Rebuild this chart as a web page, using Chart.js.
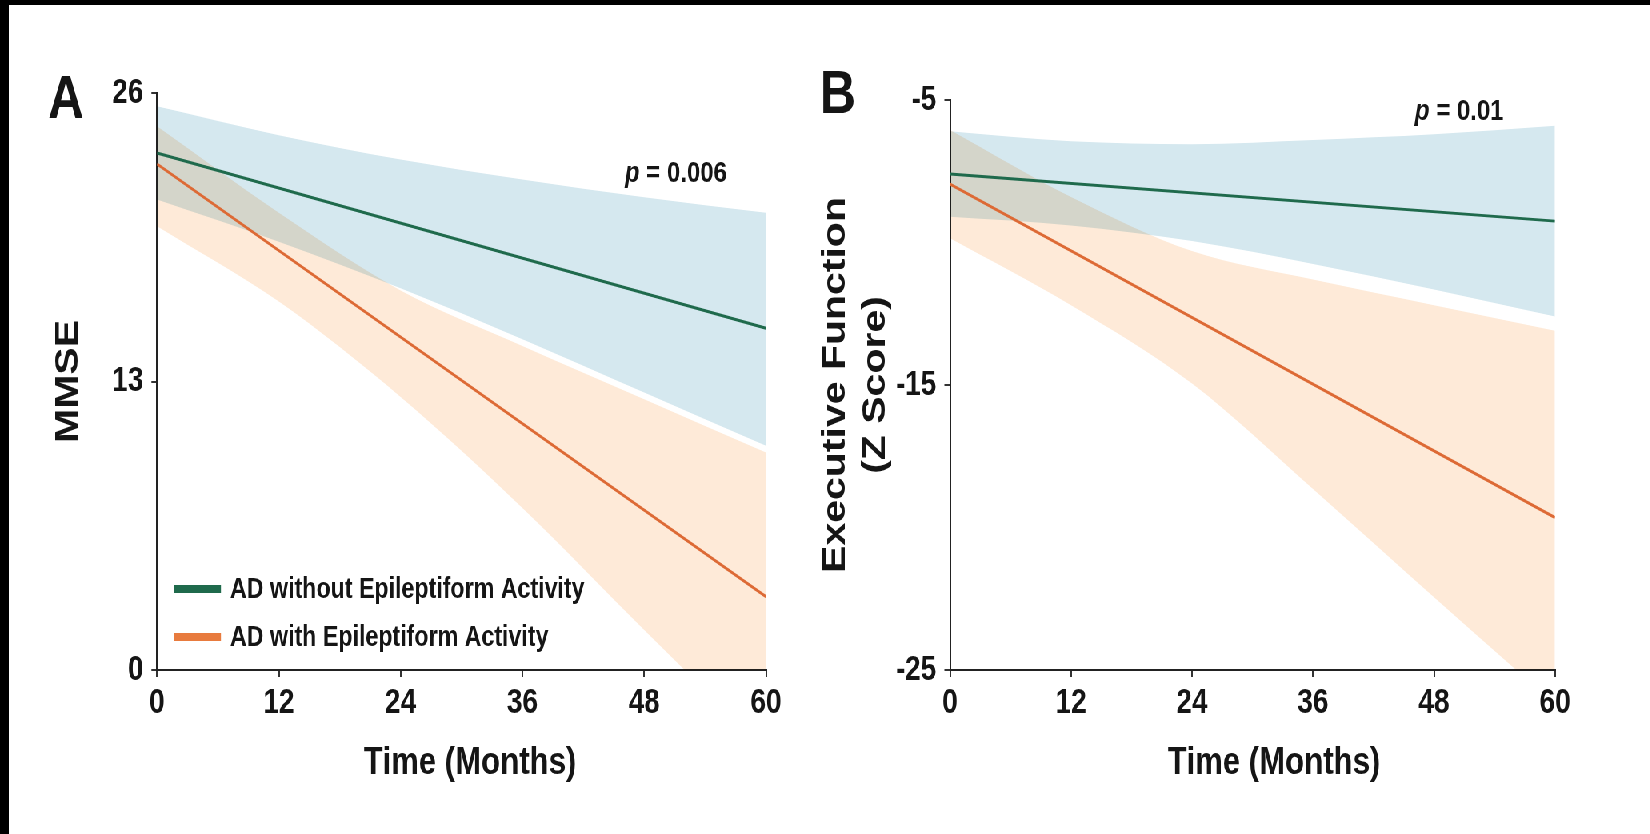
<!DOCTYPE html>
<html lang="en">
<head>
<meta charset="UTF-8">
<title>MMSE and Executive Function over time</title>
<script src="https://cdn.jsdelivr.net/npm/chart.js"></script>
<style>
    body, html {
        margin: 0;
        padding: 0;
        background: #fff;
        width: 1650px;
        height: 834px;
        overflow: hidden;
    }
    #frameTop { position: absolute; left: 0; top: 0; width: 1650px; height: 5px; background: #000; }
    #frameLeft { position: absolute; left: 0; top: 0; width: 9px; height: 834px; background: #000; }
    /* the original figure is squeezed horizontally, so draw wide and squeeze */
    #stage {
        position: absolute; left: 0; top: 0;
        width: 2063px; height: 834px;
        transform: scaleX(0.8);
        transform-origin: 0 0;
    }
    #stage canvas { position: absolute; top: 0; }
</style>
</head>
<body>
<div id="stage">
    <canvas id="chartA" width="1031" height="834" style="left:0px"></canvas>
    <canvas id="chartB" width="1163" height="834" style="left:900px"></canvas>
</div>
<div id="frameTop"></div>
<div id="frameLeft"></div>

<script>
// ---- data ----
const months = [0, 12, 24, 36, 48, 60];
const lineMonths = [0, 60];
const xTicks = [0, 12, 24, 36, 48, 60];
const seriesLabels = ['AD without Epileptiform Activity', 'AD with Epileptiform Activity'];

// Panel A: MMSE
const mmseTicks = [0, 13, 26];
const mmseWithout = [23.3, 15.4];
const mmseWith = [22.8, 3.3];
const mmseWithoutUpper = [25.4, 24.1, 23.0, 22.1, 21.3, 20.6];
const mmseWithoutLower = [21.2, 19.3, 17.2, 14.9, 12.5, 10.1];
const mmseWithUpper = [24.5, 20.6, 17.1, 14.6, 12.2, 9.8];
const mmseWithLower = [20.0, 16.6, 12.3, 7.3, 1.8, -3.6];

// Panel B: Executive function (Z score)
const efTicks = [-25, -15, -5];
const efWithout = [-7.6, -9.25];
const efWith = [-7.95, -19.65];
const efWithoutUpper = [-6.1, -6.45, -6.55, -6.4, -6.2, -5.9];
const efWithoutLower = [-9.1, -9.4, -9.95, -10.75, -11.65, -12.6];
const efWithUpper = [-6.05, -8.4, -10.3, -11.3, -12.2, -13.1];
const efWithLower = [-9.85, -12.2, -14.95, -18.65, -22.45, -26.2];

// ---- styling ----
const family = '"Liberation Sans", Arial, Helvetica, sans-serif';
const green = '#1f6a4c';
const orange = '#dd6a35';
const orangeSwatch = '#e87b3e';
const blueFill = '#d5e8ef';
const orangeFill = '#feead8';
const ink = '#151515';

Chart.defaults.font.family = family;

function points(xs, ys) {
    return xs.map((m, i) => ({ x: m, y: ys[i] }));
}

function lineSet(label, ys, color) {
    return {
        label: label,
        data: points(lineMonths, ys),
        borderColor: color,
        borderWidth: 3,
        pointRadius: 0,
        fill: false
    };
}

function bandSet(ys, color, fill) {
    return {
        data: points(months, ys),
        borderWidth: 0,
        pointRadius: 0,
        backgroundColor: color,
        cubicInterpolationMode: 'monotone',
        fill: fill
    };
}

// bands are blended with multiply so the overlap turns greyish; also draws letters, p and legend
const panelText = {
    id: 'panelText',
    beforeDatasetsDraw(chart) {
        chart.ctx.globalCompositeOperation = 'multiply';
    },
    beforeDatasetDraw(chart, args) {
        if (args.index < 2) chart.ctx.globalCompositeOperation = 'source-over';
    },
    afterDatasetsDraw(chart) {
        chart.ctx.globalCompositeOperation = 'source-over';
    },
    afterDraw(chart, args, opts) {
        const ctx = chart.ctx;
        const x = chart.scales.x, y = chart.scales.y;
        ctx.save();
        ctx.fillStyle = ink;
        ctx.textBaseline = 'alphabetic';
        ctx.textAlign = 'left';

        ctx.font = 'bold 62px ' + family;
        ctx.fillText(opts.letter, opts.letterPos[0], opts.letterPos[1]);

        let px = x.getPixelForValue(opts.pAt[0]);
        const py = y.getPixelForValue(opts.pAt[1]);
        ctx.font = 'italic bold 30px ' + family;
        ctx.fillText('p', px, py);
        px += ctx.measureText('p').width;
        ctx.font = 'bold 30px ' + family;
        ctx.fillText(' = ' + opts.pValue, px, py);

        if (opts.legend) {
            const colors = [green, orangeSwatch];
            const lg = opts.legend;
            ctx.font = 'bold 29px ' + family;
            ctx.textBaseline = 'middle';
            lg.rows.forEach((v, i) => {
                const ry = y.getPixelForValue(v);
                ctx.strokeStyle = colors[i];
                ctx.lineWidth = 8;
                ctx.beginPath();
                ctx.moveTo(x.getPixelForValue(lg.swatch[0]), ry);
                ctx.lineTo(x.getPixelForValue(lg.swatch[1]), ry);
                ctx.stroke();
                ctx.fillText(seriesLabels[i], x.getPixelForValue(lg.text), ry + 1);
            });
        }
        ctx.restore();
    }
};

function makeChart(id, cfg) {
    return new Chart(document.getElementById(id), {
        type: 'line',
        data: {
            datasets: [
                lineSet(seriesLabels[0], cfg.without, green),
                lineSet(seriesLabels[1], cfg.withEA, orange),
                bandSet(cfg.withoutUpper, blueFill, '+1'),
                bandSet(cfg.withoutLower, blueFill, false),
                bandSet(cfg.withUpper, orangeFill, '+1'),
                bandSet(cfg.withLower, orangeFill, false)
            ]
        },
        plugins: [panelText],
        options: {
            responsive: false,
            animation: false,
            events: [],
            layout: { padding: cfg.padding },
            plugins: {
                legend: { display: false },
                tooltip: { enabled: false },
                filler: { drawTime: 'beforeDatasetDraw' },
                panelText: cfg.text
            },
            scales: {
                x: {
                    type: 'linear',
                    min: 0,
                    max: 60,
                    afterBuildTicks: s => { s.ticks = xTicks.map(v => ({ value: v })); },
                    afterFit: s => { s.height = 120; },
                    grid: { display: true, drawOnChartArea: false, drawTicks: true, tickLength: 7, color: '#333', lineWidth: 2 },
                    border: { display: true, color: '#222', width: 2 },
                    ticks: { font: { size: 35, weight: 'bold' }, color: ink, padding: 5, maxRotation: 0, autoSkip: false },
                    title: { display: true, text: cfg.xTitle, font: { size: 39, weight: 'bold' }, color: ink, padding: { top: 0, bottom: 3 } }
                },
                y: {
                    min: cfg.yTicks[0],
                    max: cfg.yTicks[cfg.yTicks.length - 1],
                    afterBuildTicks: s => { s.ticks = cfg.yTicks.map(v => ({ value: v })); },
                    afterFit: s => { s.width = cfg.yWidth; },
                    grid: { display: true, drawOnChartArea: false, drawTicks: true, tickLength: 7, color: '#333', lineWidth: 2 },
                    border: { display: true, color: '#222', width: 2 },
                    ticks: { font: { size: 35, weight: 'bold' }, color: ink, padding: 10 },
                    title: { display: true, text: cfg.yTitle, font: { size: 41, weight: 'bold' }, color: ink, padding: { top: 0, bottom: 0 } }
                }
            }
        }
    });
}

makeChart('chartA', {
    without: mmseWithout, withEA: mmseWith,
    withoutUpper: mmseWithoutUpper, withoutLower: mmseWithoutLower,
    withUpper: mmseWithUpper, withLower: mmseWithLower,
    yTicks: mmseTicks,
    xTitle: '  Time (Months)',
    yTitle: 'MMSE',
    yWidth: 135.25,
    padding: { left: 61, right: 73.5, top: 93, bottom: 44 },
    text: {
        letter: 'A', letterPos: [60, 118],
        pValue: '0.006', pAt: [46.1, 22.0],
        legend: { rows: [3.65, 1.49], swatch: [1.7, 6.3], text: 7.2 }
    }
});

makeChart('chartB', {
    without: efWithout, withEA: efWith,
    withoutUpper: efWithoutUpper, withoutLower: efWithoutLower,
    withUpper: efWithUpper, withLower: efWithLower,
    yTicks: efTicks,
    xTitle: '     Time (Months)',
    yTitle: ['Executive Function', '(Z Score)'],
    yWidth: 167.1,
    padding: { left: 120.4, right: 119.25, top: 100, bottom: 44 },
    text: {
        letter: 'B', letterPos: [125, 113],
        pValue: '0.01', pAt: [46.1, -5.7],
        legend: null
    }
});
</script>
</body>
</html>
